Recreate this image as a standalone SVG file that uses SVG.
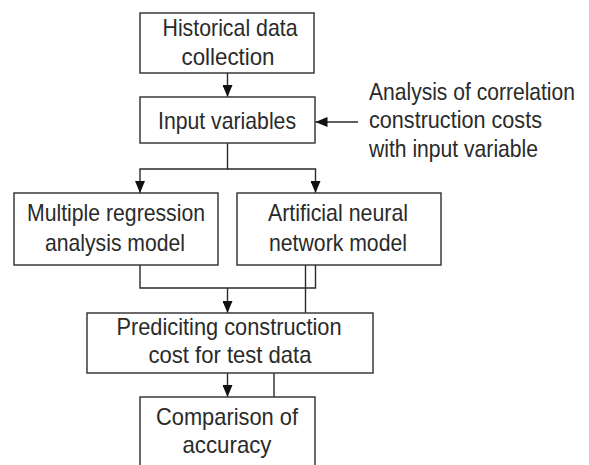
<svg xmlns="http://www.w3.org/2000/svg" width="589" height="465" viewBox="0 0 589 465">
<style>
.box{fill:#fff;stroke:#3a3a3a;stroke-width:1.5}
.t{font-family:"Liberation Sans",Arial,sans-serif;font-size:24px;fill:#2a2a2a;text-anchor:middle}
.tl{font-family:"Liberation Sans",Arial,sans-serif;font-size:24px;fill:#2a2a2a}
.c{fill:none;stroke:#2a2a2a;stroke-width:1.4}
</style>
<defs>
<marker id="ah" markerUnits="userSpaceOnUse" markerWidth="12" markerHeight="10" viewBox="0 0 12 10" refX="12" refY="5" orient="auto">
<path d="M0,0 L12,5 L0,10 Z" fill="#111"/>
</marker>
</defs>
<rect width="589" height="465" fill="#fff"/>
<g id="connectors">
<path class="c" d="M227.5,73 V97" marker-end="url(#ah)"/>
<path class="c" d="M358,122 H315.5" marker-end="url(#ah)"/>
<path class="c" d="M227.5,143 V169 H140 V193" marker-end="url(#ah)"/>
<path class="c" d="M227.5,169 H315.5 V193" marker-end="url(#ah)"/>
<path class="c" d="M140,265 V288 H315.5 V265"/>
<path class="c" d="M227.5,288 V313" marker-end="url(#ah)"/>
<path class="c" d="M305.5,265 V313"/>
<path class="c" d="M227.5,373 V397" marker-end="url(#ah)"/>
<path class="c" d="M274,373 V397"/>
</g>
<g id="historical">
<rect class="box" x="140" y="13" width="174" height="60"/>
<text class="t" x="230" y="36" textLength="135" lengthAdjust="spacingAndGlyphs">Historical data</text>
<text class="t" x="228" y="65" textLength="93" lengthAdjust="spacingAndGlyphs">collection</text>
</g>
<g id="input">
<rect class="box" x="140" y="97" width="175" height="46"/>
<text class="t" x="227" y="129" textLength="138" lengthAdjust="spacingAndGlyphs">Input variables</text>
</g>
<g id="analysis-note" transform="translate(369,0) scale(0.878,1)">
<text class="tl" x="0" y="100" textLength="234.6" lengthAdjust="spacingAndGlyphs">Analysis of correlation</text>
<text class="tl" x="0" y="128" textLength="197" lengthAdjust="spacingAndGlyphs">construction costs</text>
<text class="tl" x="0" y="157" textLength="192.5" lengthAdjust="spacingAndGlyphs">with input variable</text>
</g>
<g id="mra">
<rect class="box" x="14" y="193" width="204" height="72"/>
<text class="t" x="116" y="221" textLength="178" lengthAdjust="spacingAndGlyphs">Multiple regression</text>
<text class="t" x="115" y="251" textLength="140" lengthAdjust="spacingAndGlyphs">analysis model</text>
</g>
<g id="ann">
<rect class="box" x="237" y="193" width="204" height="72"/>
<text class="t" x="338" y="221" textLength="140" lengthAdjust="spacingAndGlyphs">Artificial neural</text>
<text class="t" x="338" y="251" textLength="138" lengthAdjust="spacingAndGlyphs">network model</text>
</g>
<g id="predicting">
<rect class="box" x="87" y="313" width="286" height="60"/>
<text class="t" x="229" y="335" textLength="225" lengthAdjust="spacingAndGlyphs">Prediciting construction</text>
<text class="t" x="230" y="363" textLength="163" lengthAdjust="spacingAndGlyphs">cost for test data</text>
</g>
<g id="comparison">
<rect class="box" x="140" y="397" width="175" height="80"/>
<text class="t" x="227" y="425" textLength="142" lengthAdjust="spacingAndGlyphs">Comparison of</text>
<text class="t" x="227" y="453" textLength="89" lengthAdjust="spacingAndGlyphs">accuracy</text>
</g>
</svg>
